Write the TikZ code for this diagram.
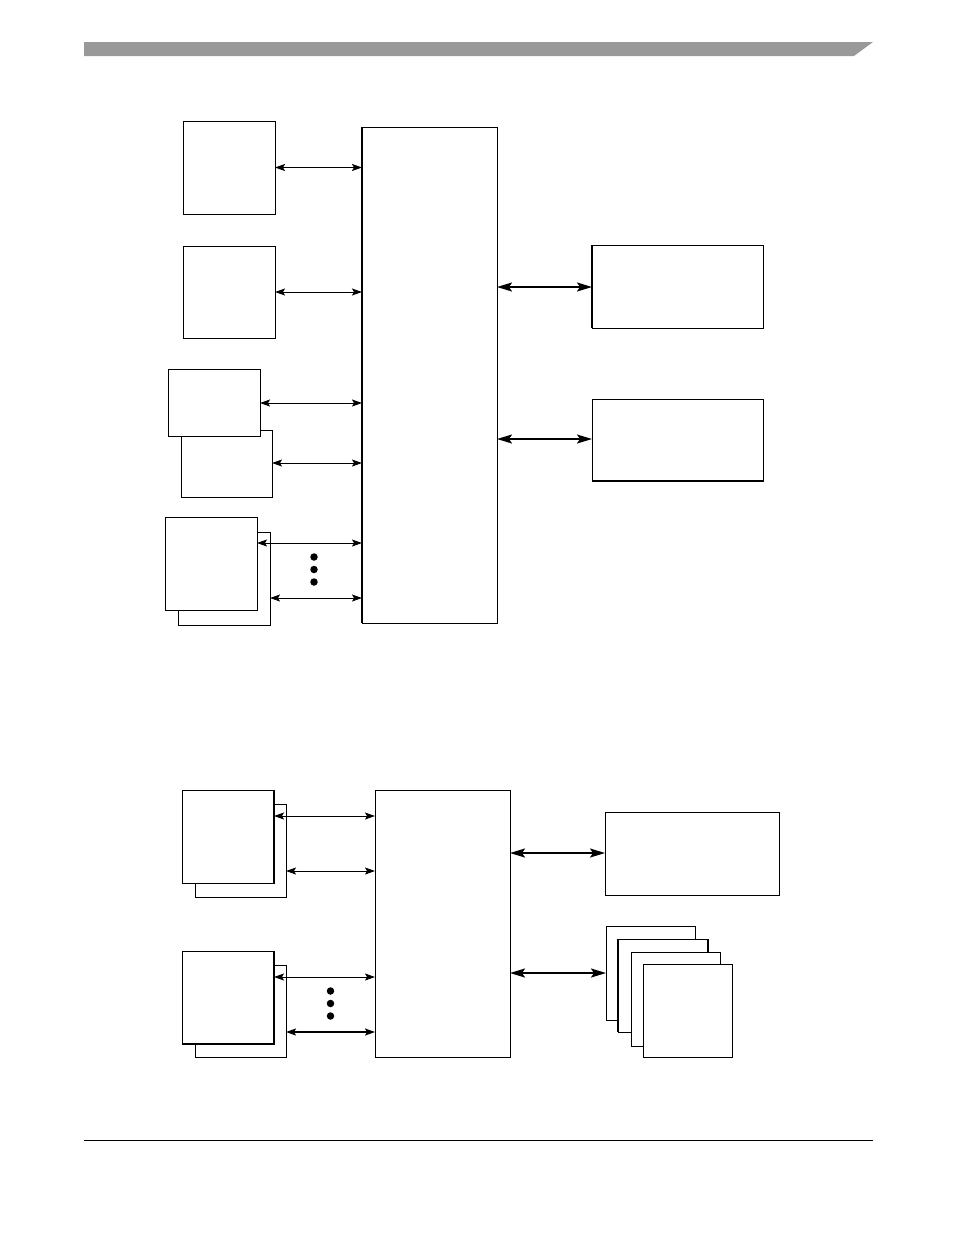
\documentclass[tikz,border=0pt]{standalone}
\usetikzlibrary{arrows.meta}
\definecolor{bargray}{HTML}{999999}
\begin{document}
\begin{tikzpicture}[x=1pt,y=-1pt,
  bx/.style={draw=black,fill=white,line width=1pt,inner sep=0pt,outer sep=0pt,anchor=north west},
  thinarr/.style={line width=1pt,{Stealth[length=10pt,width=7pt,inset=2pt]}-{Stealth[length=10pt,width=7pt,inset=2pt]}},
  thickarr/.style={line width=2pt,{Stealth[length=15pt,width=9pt,inset=3pt]}-{Stealth[length=15pt,width=9pt,inset=3pt]}},
  edge/.style={line width=2pt},
  dot/.style={circle,fill=black,inner sep=0pt,minimum size=7.5pt}]
\useasboundingbox (0,0) rectangle (954,1235);
% header bar and footer line
\fill[bargray] (84,42) -- (873,42) -- (854,56) -- (84,56) -- cycle;
\draw[line width=1.5pt] (84,1140.5) -- (873,1140.5);

% ===== upper diagram =====
\node[bx,minimum width=135pt,minimum height=496pt] (cpu) at (362,127) {};
\draw[line width=2.5pt] (cpu.north west) -- (cpu.south west);

\node[bx,minimum width=92pt,minimum height=93pt] (a1) at (183,121) {};
\node[bx,minimum width=92pt,minimum height=92pt] (a2) at (183,246) {};
\node[bx,minimum width=91pt,minimum height=67pt] (a4) at (181,430) {};
\node[bx,minimum width=92pt,minimum height=67pt] (a3) at (168,369) {};
\node[bx,minimum width=92pt,minimum height=93pt] (a6) at (178,532) {};
\node[bx,minimum width=92pt,minimum height=93pt] (a5) at (165,517) {};

\draw[thinarr] (a1.east) -- (cpu.west |- a1.east);
\draw[thinarr] (a2.east) -- (cpu.west |- a2.east);
\draw[thinarr] (a3.east |- 0,403) -- (cpu.west |- 0,403);
\draw[thinarr] (a4.east |- 0,463) -- (cpu.west |- 0,463);
\draw[thinarr] (a5.east |- 0,543) -- (cpu.west |- 0,543);
\draw[thinarr] (a6.east |- 0,598) -- (cpu.west |- 0,598);
\node[dot] (d1) at (314,557) {};
\node[dot] (d2) at (314,569.5) {};
\node[dot] (d3) at (314,582) {};

\node[bx,minimum width=171pt,minimum height=83pt] (r1) at (592,245) {};
\node[bx,minimum width=171pt,minimum height=82pt] (r2) at (592,399) {};
\draw[edge] (r1.north west) -- (r1.south west);
\draw[edge] (r2.south west) -- (r2.south east);
\draw[thickarr] (cpu.east |- 0,287) -- (r1.west |- 0,287);
\draw[thickarr] (cpu.east |- 0,439) -- (r2.west |- 0,439);

% ===== lower diagram =====
\node[bx,minimum width=135pt,minimum height=267pt] (cpub) at (375,790) {};

\node[bx,minimum width=91pt,minimum height=93pt] (b1b) at (195,804) {};
\node[bx,minimum width=92pt,minimum height=93pt] (b1) at (182,790) {};
\draw[edge] (b1.north east) -- (b1.south east);
\node[bx,minimum width=91pt,minimum height=92pt] (b2b) at (195,965) {};
\node[bx,minimum width=92pt,minimum height=93pt] (b2) at (182,951) {};
\draw[edge] (b2.north east) -- (b2.south east) -- (b2.south west);

\draw[thinarr] (b1.east |- 0,816) -- (cpub.west |- 0,816);
\draw[thinarr] (b1b.east |- 0,871) -- (cpub.west |- 0,871);
\draw[thinarr] (b2.east |- 0,977) -- (cpub.west |- 0,977);
\draw[thinarr,line width=1.5pt] (b2b.east |- 0,1032) -- (cpub.west |- 0,1032);
\node[dot] (e1) at (330.5,991) {};
\node[dot] (e2) at (330.5,1003.5) {};
\node[dot] (e3) at (330.5,1016) {};

\node[bx,minimum width=174pt,minimum height=83pt] (r3) at (605,812) {};
\draw[thickarr] (cpub.east |- 0,853) -- (r3.west |- 0,853);

\node[bx,minimum width=89pt,minimum height=94pt] (s1) at (606,926) {};
\node[bx,minimum width=90pt,minimum height=93pt] (s2) at (618,939) {};
\draw[edge] (s2.north west) -- (s2.south west);
\draw[edge] (s2.north east) -- (s2.south east);
\node[bx,minimum width=89pt,minimum height=94pt] (s3) at (631,952) {};
\node[bx,minimum width=89pt,minimum height=93pt] (s4) at (643,964) {};
\draw[thickarr] (cpub.east |- 0,973) -- (s1.west |- 0,973);
\end{tikzpicture}
\end{document}
